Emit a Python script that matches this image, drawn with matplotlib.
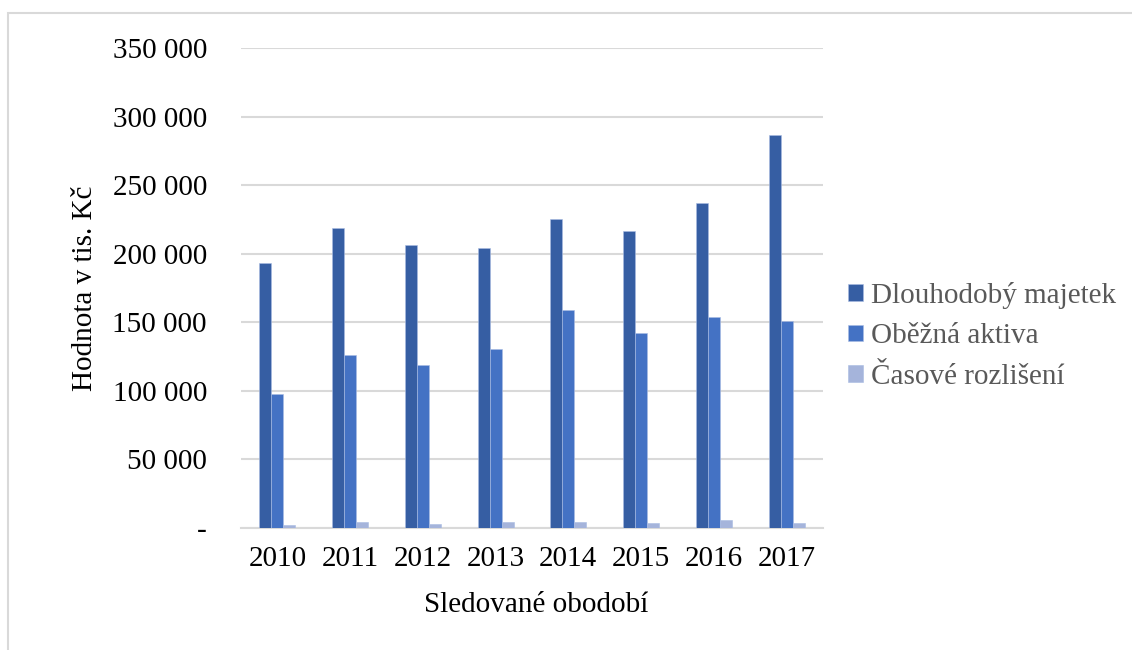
import matplotlib
matplotlib.use("Agg")
import matplotlib.pyplot as plt
import numpy as np
from matplotlib.ticker import FuncFormatter, MultipleLocator
from matplotlib.patches import Rectangle

plt.rcParams['font.family'] = ['Liberation Serif', 'DejaVu Serif']

years = ['2010', '2011', '2012', '2013', '2014', '2015', '2016', '2017']
dlouhodoby_majetek = [193200, 218800, 206400, 204200, 225600, 216600, 237200, 286300]
obezna_aktiva = [97700, 126200, 118900, 130300, 159200, 142000, 153900, 151000]
casove_rozliseni = [2200, 4100, 3200, 4100, 4100, 3600, 5600, 3400]
series_names = ['Dlouhodobý majetek', 'Oběžná aktiva', 'Časové rozlišení']
colors = ['#365EA3', '#4472C4', '#A5B4DB']

W, H = 1132, 650
fig = plt.figure(figsize=(W / 100, H / 100), dpi=100)
ax = fig.add_axes([241 / W, 1 - 528 / H, (823 - 241) / W, (528 - 48) / H])

x = np.arange(len(years))
w = 0.164
for i, (vals, name, c) in enumerate(zip([dlouhodoby_majetek, obezna_aktiva, casove_rozliseni], series_names, colors)):
    ax.bar(x + (i - 1) * w, vals, width=w, color=c, edgecolor='#A9BCE3', linewidth=0.4,
           label=name, zorder=3)

ax.set_xlim(-0.5, len(years) - 0.5)
ax.set_ylim(0, 350000)
ax.yaxis.set_major_locator(MultipleLocator(50000))
ax.yaxis.set_major_formatter(FuncFormatter(lambda v, p: '-' if v == 0 else f"{int(v):,}".replace(',', ' ')))
ax.set_xticks(x)
ax.set_xticklabels(years)
ax.grid(axis='y', color='#D9D9D9', linewidth=1.5, zorder=0)
for s in ['top', 'right', 'left']:
    ax.spines[s].set_visible(False)
ax.spines['bottom'].set_color('#D9D9D9')
ax.spines['bottom'].set_linewidth(1.5)
ax.tick_params(axis='both', length=0, labelsize=21, colors='black')
ax.tick_params(axis='y', pad=24.5)
ax.tick_params(axis='x', pad=13)

fig.text(85 / W, 1 - 288 / H, 'Hodnota v tis. Kč', rotation=90, ha='center', va='center', fontsize=21)
fig.text(536 / W, 1 - 605 / H, 'Sledované obodobí', ha='center', va='center', fontsize=21)

leg = ax.legend(loc='center left', bbox_to_anchor=(848 / W, 1 - 336 / H), bbox_transform=fig.transFigure,
                frameon=False, fontsize=21, handlelength=0.5, handleheight=0.5, handletextpad=0.28,
                labelspacing=0.5, borderpad=0, borderaxespad=0)
for t in leg.get_texts():
    t.set_color('#595959')

fig.patches.append(Rectangle((8 / W, -0.1), 1.2, 1 - 13 / H + 0.1, transform=fig.transFigure,
                             fill=False, edgecolor='#D9D9D9', linewidth=1.5, zorder=0))

fig.savefig('out.png', dpi=100)
